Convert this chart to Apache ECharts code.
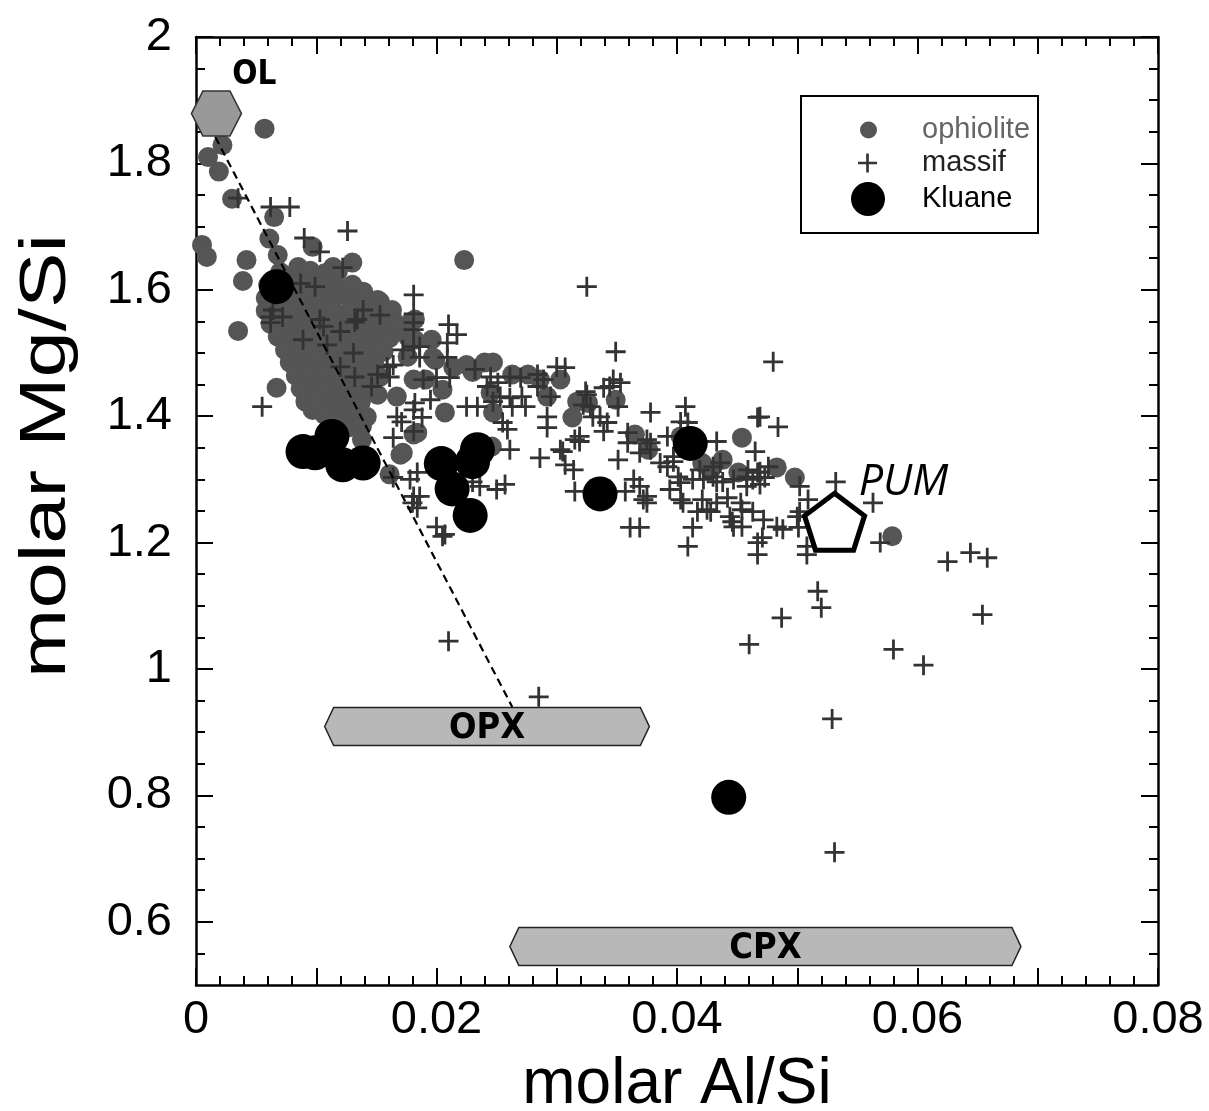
<!DOCTYPE html>
<html>
<head>
<meta charset="utf-8">
<script src="https://cdn.jsdelivr.net/npm/echarts@6/dist/echarts.min.js"></script>
<style>
  html, body { margin: 0; padding: 0; background: #fff; }
  #chart { width: 1209px; height: 1111px; }
</style>
</head>
<body>
<div id="chart"></div>
<script>
// ---- data ----
var ophiolite = [
  [0.0057,1.855],[0.0022,1.829],[0.0010,1.810],[0.0019,1.787],[0.0030,1.744],[0.0065,1.715],
  [0.0061,1.681],[0.0005,1.671],[0.0009,1.652],[0.0042,1.647],[0.0039,1.614],[0.0068,1.655],
  [0.0097,1.668],[0.0114,1.636],[0.0130,1.643],[0.0223,1.647],[0.0035,1.535],[0.0067,1.445],
  [0.0085,1.636],[0.0139,1.597],[0.0167,1.431],[0.0181,1.458],[0.0176,1.526],[0.0182,1.553],
  [0.0142,1.399],[0.0097,1.410],[0.0138,1.363],[0.0170,1.339],[0.0161,1.308],[0.0151,1.434],
  [0.0181,1.371],[0.0197,1.493],[0.0207,1.406],[0.0225,1.481],[0.0230,1.470],[0.0178,1.548],
  [0.0182,1.521],[0.0176,1.494],[0.0191,1.458],[0.0199,1.489],[0.0214,1.477],[0.0240,1.485],
  [0.0247,1.485],[0.0263,1.466],[0.0276,1.466],[0.0286,1.458],[0.0303,1.458],[0.0205,1.442],
  [0.0247,1.406],[0.0292,1.431],[0.0313,1.398],[0.0317,1.423],[0.0184,1.374],[0.0172,1.342],
  [0.0246,1.352],[0.0245,1.437],[0.0326,1.421],[0.0349,1.426],[0.0365,1.371],[0.0376,1.347],
  [0.0403,1.368],[0.0421,1.326],[0.0438,1.331],[0.0454,1.366],[0.0451,1.311],[0.0483,1.319],
  [0.0498,1.303],[0.0579,1.210],[0.0428,1.315],[0.0196,1.521],[0.0166,1.537],[0.0153,1.581],
  [0.0163,1.556],
  // dense cloud near the olivine line
  [0.0070,1.628],[0.0082,1.625],[0.0095,1.630],[0.0107,1.626],[0.0118,1.629],
  [0.0060,1.608],[0.0072,1.605],[0.0083,1.610],[0.0095,1.606],[0.0106,1.609],[0.0118,1.604],[0.0130,1.608],
  [0.0058,1.587],[0.0070,1.590],[0.0082,1.585],[0.0093,1.588],[0.0105,1.586],[0.0116,1.589],[0.0128,1.585],[0.0140,1.588],[0.0151,1.584],
  [0.0058,1.567],[0.0070,1.565],[0.0082,1.569],[0.0093,1.566],[0.0105,1.568],[0.0116,1.564],[0.0128,1.567],[0.0140,1.569],[0.0151,1.565],[0.0163,1.568],
  [0.0062,1.546],[0.0073,1.549],[0.0085,1.545],[0.0097,1.547],[0.0108,1.544],[0.0120,1.548],[0.0131,1.546],[0.0143,1.543],[0.0155,1.547],[0.0166,1.545],
  [0.0068,1.526],[0.0080,1.524],[0.0092,1.528],[0.0103,1.525],[0.0115,1.527],[0.0126,1.523],[0.0138,1.526],[0.0150,1.528],[0.0161,1.524],
  [0.0074,1.505],[0.0086,1.507],[0.0097,1.503],[0.0109,1.506],[0.0121,1.504],[0.0132,1.507],[0.0144,1.505],[0.0156,1.502],
  [0.0078,1.485],[0.0090,1.483],[0.0102,1.487],[0.0113,1.484],[0.0125,1.486],[0.0136,1.482],[0.0148,1.485],
  [0.0083,1.464],[0.0095,1.466],[0.0106,1.462],[0.0118,1.465],[0.0130,1.463],[0.0141,1.466],[0.0153,1.462],
  [0.0087,1.444],[0.0098,1.442],[0.0110,1.446],[0.0121,1.443],[0.0133,1.445],[0.0145,1.441],
  [0.0091,1.423],[0.0102,1.425],[0.0114,1.421],[0.0126,1.424],[0.0137,1.422],
  [0.0107,1.402],[0.0120,1.404],[0.0130,1.400],
  [0.0126,1.382],[0.0138,1.384]
];

var massif = [
  [0.0035,1.745],[0.0062,1.731],[0.0078,1.731],[0.0126,1.693],[0.0090,1.682],[0.0103,1.660],
  [0.0122,1.635],[0.0181,1.592],[0.0087,1.610],[0.0099,1.605],[0.0062,1.557],[0.0072,1.557],
  [0.0103,1.553],[0.0134,1.553],[0.0139,1.568],[0.0153,1.560],[0.0181,1.562],[0.0210,1.545],
  [0.0064,1.568],[0.0062,1.548],[0.0106,1.542],[0.0132,1.549],[0.0120,1.534],[0.0089,1.521],
  [0.0109,1.513],[0.0131,1.500],[0.0120,1.478],[0.0132,1.462],[0.0151,1.466],[0.0159,1.478],
  [0.0164,1.481],[0.0146,1.447],[0.0172,1.505],[0.0181,1.510],[0.0055,1.415],[0.0182,1.421],
  [0.0167,1.399],[0.0181,1.537],[0.0181,1.548],[0.0217,1.529],[0.0209,1.516],[0.0186,1.510],
  [0.0186,1.493],[0.0209,1.493],[0.0161,1.462],[0.0189,1.458],[0.0200,1.461],[0.0211,1.461],
  [0.0232,1.474],[0.0195,1.426],[0.0225,1.415],[0.0234,1.415],[0.0171,1.391],[0.0188,1.398],
  [0.0181,1.376],[0.0164,1.366],[0.0164,1.303],[0.0178,1.300],[0.0184,1.311],[0.0181,1.273],
  [0.0186,1.273],[0.0184,1.255],[0.0200,1.225],[0.0205,1.210],[0.0230,1.296],[0.0180,1.263],
  [0.0181,1.410],[0.0325,1.605],[0.0349,1.502],[0.0300,1.478],[0.0245,1.462],[0.0251,1.453],
  [0.0261,1.462],[0.0270,1.461],[0.0284,1.466],[0.0289,1.458],[0.0242,1.447],[0.0253,1.431],
  [0.0261,1.429],[0.0271,1.431],[0.0247,1.423],[0.0263,1.415],[0.0274,1.415],[0.0284,1.447],
  [0.0295,1.431],[0.0325,1.434],[0.0344,1.447],[0.0347,1.458],[0.0353,1.453],[0.0322,1.418],
  [0.0328,1.415],[0.0351,1.415],[0.0255,1.390],[0.0259,1.379],[0.0292,1.399],[0.0292,1.382],
  [0.0261,1.347],[0.0236,1.289],[0.0250,1.284],[0.0257,1.292],[0.0286,1.334],[0.0303,1.347],
  [0.0307,1.323],[0.0315,1.363],[0.0319,1.360],[0.0330,1.399],[0.0342,1.390],[0.0339,1.376],
  [0.0315,1.281],[0.0357,1.281],[0.0351,1.331],[0.0359,1.358],[0.0359,1.374],[0.0375,1.363],
  [0.0378,1.347],[0.0369,1.342],[0.0364,1.300],[0.0369,1.289],[0.0375,1.273],[0.0375,1.263],
  [0.0378,1.406],[0.0407,1.415],[0.0403,1.391],[0.0409,1.390],[0.0392,1.368],[0.0397,1.336],
  [0.0361,1.224],[0.0369,1.224],[0.0413,1.224],[0.0405,1.263],[0.0403,1.295],[0.0413,1.300],
  [0.0422,1.300],[0.0433,1.296],[0.0419,1.315],[0.0430,1.320],[0.0436,1.326],[0.0433,1.360],
  [0.0207,1.213],[0.0444,1.241],[0.0425,1.252],[0.0409,1.194],[0.0339,1.445],[0.0324,1.439],
  [0.0467,1.398],[0.0307,1.477],[0.0336,1.399],[0.0319,1.368],[0.0305,1.344],[0.0378,1.358],
  [0.0314,1.315],[0.0372,1.268],[0.0386,1.326],[0.0392,1.320],[0.0397,1.328],[0.0401,1.304],
  [0.0430,1.304],[0.0438,1.296],[0.0447,1.300],[0.0458,1.304],[0.0467,1.311],[0.0394,1.284],
  [0.0403,1.268],[0.0421,1.268],[0.0433,1.263],[0.0442,1.271],[0.0417,1.249],[0.0428,1.249],
  [0.0453,1.263],[0.0454,1.252],[0.0446,1.233],[0.0463,1.249],[0.0447,1.225],[0.0469,1.399],
  [0.0484,1.383],[0.0465,1.344],[0.0459,1.315],[0.0469,1.312],[0.0473,1.303],[0.0463,1.300],
  [0.0476,1.320],[0.0469,1.292],[0.0458,1.289],[0.0502,1.289],[0.0532,1.296],[0.0509,1.268],
  [0.0502,1.249],[0.0472,1.236],[0.0483,1.225],[0.0488,1.221],[0.0501,1.224],[0.0500,1.241],
  [0.0454,1.225],[0.0471,1.208],[0.0467,1.200],[0.0467,1.181],[0.0508,1.194],[0.0508,1.181],
  [0.0563,1.263],[0.0569,1.200],[0.0480,1.486],[0.0625,1.170],[0.0644,1.184],[0.0658,1.176],
  [0.0517,1.123],[0.0210,1.044],[0.0285,0.956],[0.0460,1.039],[0.0487,1.081],[0.0520,1.097],
  [0.0654,1.086],[0.0580,1.031],[0.0605,1.006],[0.0529,0.921],[0.0531,0.710]
];

var kluane = [
  [0.0067,1.605],[0.0089,1.344],[0.0099,1.342],[0.0113,1.368],[0.0122,1.323],[0.0139,1.326],
  [0.0204,1.325],[0.0213,1.285],[0.0230,1.328],[0.0234,1.347],[0.0228,1.243],[0.0336,1.277],
  [0.0411,1.357],[0.0443,0.797]
];

var olivine = [[0.0017, 1.879]];
var pum = [[0.0531, 1.233]];
var olivineLine = [[0.0016, 1.842], [0.0263, 0.940]];
// mineral ranges: [Al/Si from, Al/Si to, Mg/Si]
var minerals = [[0.0107, 0.0377, 0.909], [0.0261, 0.0686, 0.561]];
var mineralNames = ['OPX', 'CPX'];

var xLabelTicks = [0, 0.02, 0.04, 0.06, 0.08];
var yLabelTicks = [0.6, 0.8, 1, 1.2, 1.4, 1.6, 1.8, 2];
var yMinorTicks = [0.55, 0.65, 0.7, 0.75, 0.85, 0.9, 0.95, 1.05, 1.1, 1.15, 1.25, 1.3, 1.35,
                   1.45, 1.5, 1.55, 1.65, 1.7, 1.75, 1.85, 1.9, 1.95];

var FONT = '"Liberation Sans", Arial, Helvetica, sans-serif';
var NARROW = '"Liberation Sans Narrow", "DejaVu Sans Condensed", "Liberation Sans", sans-serif';
var PLUS = 'path://M8.6,0H11.4V20H8.6ZM0,8.6H20V11.4H0Z';
var HEX = 'path://M0,22.5L11.5,0L38.5,0L50,22.5L38.5,45L11.5,45Z';
var PENTA = 'path://M30,0L60,22.4L49,56.7L11,56.7L0,22.4Z';

var myChart = echarts.init(document.getElementById('chart'));

function xAxisDef(pos) {
  return {
    type: 'value', position: pos, min: 0, max: 0.08, interval: 0.01,
    axisLine: { show: true, onZero: false, lineStyle: { color: '#000', width: 2.5 } },
    axisTick: { show: true, inside: true, length: 17, lineStyle: { color: '#000', width: 2 } },
    minorTick: { show: true, splitNumber: 5, length: 9, lineStyle: { color: '#000', width: 2 } },
    splitLine: { show: false },
    axisLabel: {
      show: pos === 'bottom', customValues: xLabelTicks, margin: 12,
      color: '#000', fontSize: 47, fontFamily: FONT
    }
  };
}

function yAxisDef(pos, ticks, len, showLine) {
  return {
    type: 'value', position: pos, min: 0.5, max: 2,
    axisLine: { show: showLine, onZero: false, lineStyle: { color: '#000', width: 2.5 } },
    axisTick: { show: true, inside: true, customValues: ticks, length: len, lineStyle: { color: '#000', width: 2 } },
    splitLine: { show: false },
    axisLabel: { show: false }
  };
}

var yMain = yAxisDef('left', yLabelTicks, 17, true);
yMain.axisLabel = { show: true, customValues: yLabelTicks, margin: 24, color: '#000', fontSize: 47, fontFamily: FONT };

var xMain = xAxisDef('bottom');
xMain.name = 'molar Al/Si';
xMain.nameLocation = 'middle';
xMain.nameGap = 68;
xMain.nameTextStyle = { fontSize: 64, fontFamily: FONT, color: '#000' };

var option = {
  backgroundColor: '#fff',
  animation: false,
  grid: { left: 196, right: 51, top: 37, bottom: 126, containLabel: false, outerBoundsMode: 'none' },
  xAxis: [xMain, xAxisDef('top')],
  yAxis: [
    yMain,
    yAxisDef('left', yMinorTicks, 9, false),
    yAxisDef('right', yLabelTicks, 17, true),
    yAxisDef('right', yMinorTicks, 9, false)
  ],
  graphic: [{
    type: 'rect', left: 800, top: 95, z: 1,
    shape: { width: 237, height: 137 },
    style: { fill: '#fff', stroke: '#000', lineWidth: 2 }
  }, {
    // y-axis title, stretched along its length as in the original figure
    type: 'text', x: 47, y: 456, rotation: Math.PI / 2, scaleX: 1.3,
    style: { text: 'molar Mg/Si', fontSize: 64, fontFamily: FONT, fill: '#000',
             align: 'center', verticalAlign: 'middle' }
  }],
  legend: [
    { data: [{ name: 'ophiolite', icon: 'circle' }], left: 860, top: 115, padding: 0,
      itemWidth: 17, itemHeight: 17, selectedMode: false,
      textStyle: { fontSize: 29, lineHeight: 30, fontFamily: FONT, color: '#666', padding: [0, 0, 0, 40] } },
    { data: [{ name: 'massif', icon: PLUS }], left: 858, top: 148, padding: 0,
      itemWidth: 19, itemHeight: 19, selectedMode: false,
      textStyle: { fontSize: 29, lineHeight: 30, fontFamily: FONT, color: '#222', padding: [0, 0, 0, 40] } },
    { data: [{ name: 'Kluane', icon: 'circle' }], left: 851, top: 182, padding: 0,
      itemWidth: 34, itemHeight: 34, selectedMode: false,
      textStyle: { fontSize: 29, lineHeight: 34, fontFamily: FONT, color: '#000', padding: [0, 0, 0, 32] } }
  ],
  series: [
    { name: 'ophiolite', type: 'scatter', data: ophiolite, symbol: 'circle', symbolSize: 20,
      itemStyle: { color: '#555555', opacity: 1 }, silent: true },
    { name: 'massif', type: 'scatter', data: massif, symbol: PLUS, symbolSize: 20,
      itemStyle: { color: '#333333', opacity: 1 }, silent: true },
    { name: 'Kluane', type: 'scatter', data: kluane, symbol: 'circle', symbolSize: 35,
      itemStyle: { color: '#000', opacity: 1 }, silent: true },
    { name: 'olivine trend', type: 'line', data: olivineLine, symbol: 'none', silent: true,
      lineStyle: { color: '#000', width: 2.2, type: [8, 5] } },
    { name: 'OL', type: 'scatter', data: olivine, symbol: HEX, symbolSize: [50, 45], silent: true,
      itemStyle: { color: '#999999', borderColor: '#333', borderWidth: 1.5, opacity: 1 },
      label: { show: true, formatter: 'OL', position: 'inside', offset: [38, -38],
               fontSize: 33, fontWeight: 'bold', fontFamily: NARROW, color: '#000' } },
    { name: 'minerals', type: 'custom', data: minerals, silent: true,
      renderItem: function (params, api) {
        var y = api.value(2);
        var p0 = api.coord([api.value(0), y]);
        var p1 = api.coord([api.value(1), y]);
        var h = 19, tip = 9, cy = p0[1];
        return {
          type: 'group',
          children: [{
            type: 'polygon',
            shape: { points: [[p0[0], cy], [p0[0] + tip, cy - h], [p1[0] - tip, cy - h],
                              [p1[0], cy], [p1[0] - tip, cy + h], [p0[0] + tip, cy + h]] },
            style: { fill: '#b8b8b8', stroke: '#222', lineWidth: 1.5 }
          }, {
            type: 'text',
            style: { text: mineralNames[params.dataIndex], x: (p0[0] + p1[0]) / 2, y: cy + 2,
                     align: 'center', verticalAlign: 'middle', fontSize: 36, fontWeight: 'bold',
                     fontFamily: NARROW, fill: '#000' }
          }]
        };
      } },
    { name: 'PUM', type: 'scatter', data: pum, symbol: PENTA, symbolSize: [60, 57], silent: true,
      itemStyle: { color: '#fff', borderColor: '#000', borderWidth: 5, opacity: 1 },
      label: { show: true, formatter: 'PUM', position: 'inside', offset: [69, -39],
               fontSize: 43, fontStyle: 'italic', fontFamily: '"Open Sans", "DejaVu Sans", sans-serif', color: '#000' } }
  ]
};

myChart.setOption(option);
window.addEventListener('resize', function () {
  myChart.resize();
});
</script>
</body>
</html>
